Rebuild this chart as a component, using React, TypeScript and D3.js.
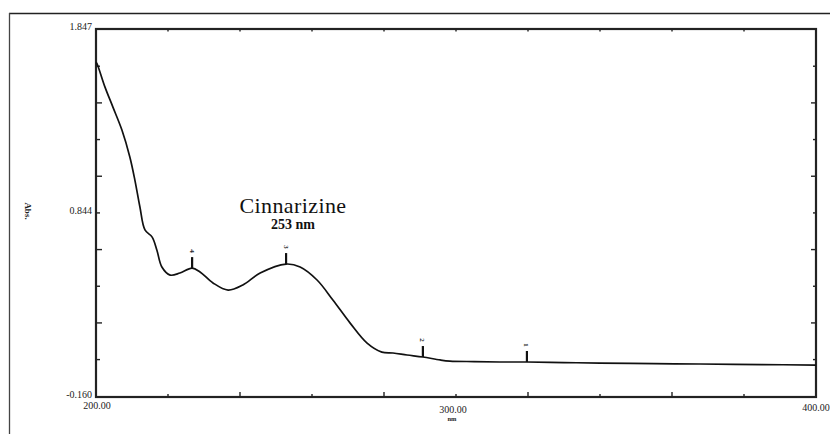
import React from "react";
import * as d3 from "d3";

const wavelengths = [200, 200.2, 202.5, 204.7, 207.2, 209.4, 210.8, 212.2, 213.6, 215.6, 216.9, 218.3, 220.6, 223.3, 226.7, 228.9, 232.5, 236.7, 240.8, 245.6, 252.8, 256.7, 261.4, 265.8, 270.6, 275.3, 279.4, 282.5, 286.4, 290.8, 295.6, 298.3, 305, 312.2, 319.7, 330, 340, 355, 367.8, 385, 400];
const absorbance = [1.665, 1.661, 1.53, 1.421, 1.296, 1.149, 1.023, 0.876, 0.751, 0.712, 0.642, 0.549, 0.505, 0.516, 0.543, 0.522, 0.462, 0.423, 0.451, 0.516, 0.565, 0.549, 0.478, 0.369, 0.243, 0.134, 0.085, 0.08, 0.069, 0.058, 0.042, 0.036, 0.033, 0.031, 0.031, 0.028, 0.025, 0.022, 0.02, 0.017, 0.014];

const peakNumbers = ["1", "2", "3", "4"];
const peakNm = [319.7, 290.8, 252.8, 226.7];
const peakAbs = [0.031, 0.058, 0.565, 0.543];

const xTickValues = [220, 240, 260, 280, 300, 320, 340, 360, 380];
const yTickValues = [0.044, 0.244, 0.444, 0.644, 0.844, 1.044, 1.244, 1.444, 1.644];
const xTickLabels = ["200.00", "300.00", "400.00"];
const xLabelValues = [200, 300, 400];
const yLabelValues = [-0.16, 0.844, 1.847];
const yTickLabels = ["-0.160", "0.844", "1.847"];

const titleText = "Cinnarizine";
const subtitleText = "253 nm";

export default function App() {
  const W = 830, H = 434;
  const left = 96, right = 816, top = 29, bottom = 397;
  const x = d3.scaleLinear().domain([200, 400]).range([left, right]);
  const y = d3.scaleLinear().domain([-0.16, 1.847]).range([bottom, top]);
  const pts: [number, number][] = wavelengths.map((w, i) => [w, absorbance[i]]);
  const line = d3.line<[number, number]>().x(d => x(d[0])).y(d => y(d[1])).curve(d3.curveCatmullRom.alpha(0.5));
  const frameColor = "#222";
  const font = "'Liberation Serif', 'Times New Roman', serif";
  const xLabelY = [409, 413, 411];

  return (
    <svg width={W} height={H} style={{ position: "absolute", left: 0, top: 0, background: "#fff" }}>
      <rect x={0} y={0} width={W} height={H} fill="#fff" />
      {/* outer frame */}
      <line x1={9} y1={13.5} x2={830} y2={13.5} stroke="#222" strokeWidth={1.3} />
      <line x1={9.5} y1={13} x2={9.5} y2={434} stroke="#444" strokeWidth={1.3} />
      {/* plot frame */}
      <rect x={left} y={top} width={right - left} height={bottom - top} fill="none" stroke={frameColor} strokeWidth={2.2} />
      {/* bottom ticks */}
      {xTickValues.map((v, i) => (
        <g key={"xt" + v}>
          <line x1={x(v)} x2={x(v)} y1={bottom} y2={bottom - (i % 2 === 1 ? 5 : 3)} stroke={frameColor} strokeWidth={1.4} />
          <line x1={x(v)} x2={x(v)} y1={top} y2={top + 2.5} stroke={frameColor} strokeWidth={1.4} />
        </g>
      ))}
      {/* left ticks */}
      {yTickValues.map((v, i) => (
        <g key={"yt" + v}>
          <line x1={left} x2={left + (i % 2 === 1 ? 6 : 4)} y1={y(v)} y2={y(v)} stroke={frameColor} strokeWidth={1.4} />
          <line x1={right} x2={right - (i % 2 === 1 ? 5 : 3)} y1={y(v)} y2={y(v)} stroke={frameColor} strokeWidth={1.4} />
        </g>
      ))}
      {/* y labels */}
      {yLabelValues.map((v, i) => (
        <text key={"yl" + i} x={left - 4} y={y(v) + 1} textAnchor="end" fontFamily={font} fontSize={10} fill="#222">{yTickLabels[i]}</text>
      ))}
      {/* x labels */}
      {xLabelValues.map((v, i) => (
        <text key={"xl" + i} x={x(v) + (i === 0 ? 1 : i === 1 ? -3 : 0)} y={xLabelY[i]} textAnchor="middle" fontFamily={font} fontSize={10} fill="#222">{xTickLabels[i]}</text>
      ))}
      <text x={x(300) - 4} y={421} textAnchor="middle" fontFamily={font} fontSize={6.5} fontWeight="bold" fill="#222">nm</text>
      <text transform={`translate(25,211) rotate(90)`} textAnchor="middle" fontFamily={font} fontSize={9} fontWeight="bold" fill="#222">Abs.</text>
      {/* spectrum */}
      <path d={line(pts) || ""} fill="none" stroke="#111" strokeWidth={1.7} />
      {/* peak markers */}
      {peakNm.map((v, i) => {
        const px = x(v), py = y(peakAbs[i]);
        return (
          <g key={"pk" + i}>
            <line x1={px} x2={px} y1={py} y2={py - 11} stroke="#111" strokeWidth={2.2} />
            <text transform={`translate(${px - 2.5},${py - 17}) rotate(90)`} textAnchor="middle" fontFamily={font} fontSize={7} fontWeight="bold" fill="#222">{peakNumbers[i]}</text>
          </g>
        );
      })}
      {/* annotation */}
      <text x={293} y={213} textAnchor="middle" fontFamily={font} fontSize={22} letterSpacing={0.4} fill="#111">{titleText}</text>
      <text x={293} y={229} textAnchor="middle" fontFamily={font} fontSize={14} fontWeight="bold" fill="#111">{subtitleText}</text>
    </svg>
  );
}
